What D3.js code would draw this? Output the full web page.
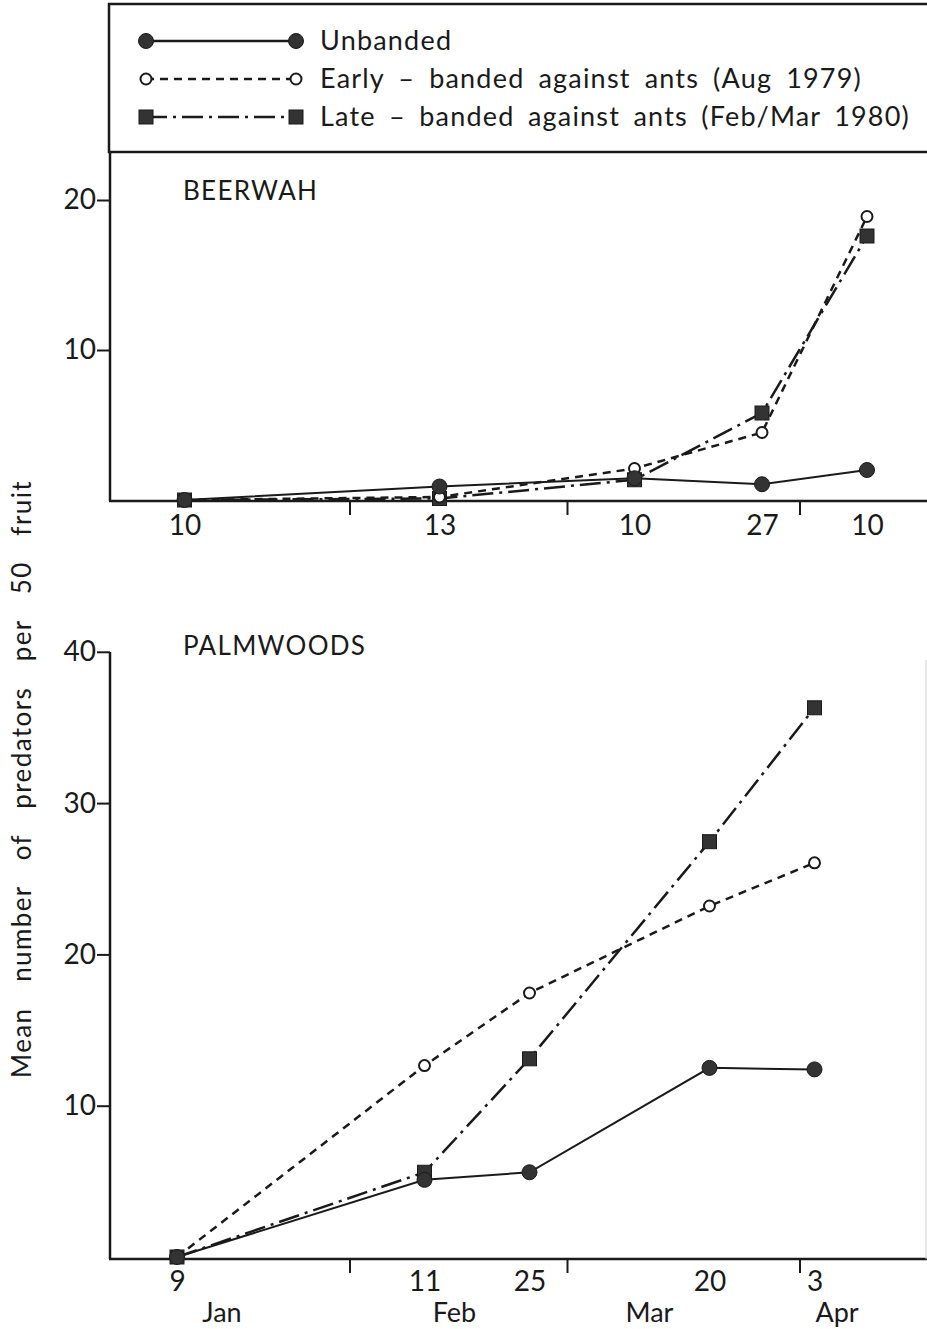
<!DOCTYPE html>
<html>
<head>
<meta charset="utf-8">
<script src="https://cdn.jsdelivr.net/npm/d3@7"></script>
<style>
  body { margin: 0; background: #fff; }
  svg { display: block; font-family: Lato, "Open Sans", sans-serif; }
</style>
</head>
<body>
<svg id="chart" width="927" height="1329"></svg>
<script>
// data
var seriesNames = ["Unbanded", "Early \u2013 banded against ants (Aug 1979)", "Late \u2013 banded against ants (Feb/Mar 1980)"];
var beerwahDates = ["1980-01-10", "1980-02-13", "1980-03-10", "1980-03-27", "1980-04-10"];
var beerwahUnbanded = [0, 0.9, 1.45, 1.05, 2.0];
var beerwahEarly = [0, 0.2, 2.1, 4.5, 18.9];
var beerwahLate = [0, 0.1, 1.35, 5.8, 17.6];
var palmwoodsDates = ["1980-01-09", "1980-02-11", "1980-02-25", "1980-03-20", "1980-04-03"];
var palmwoodsUnbanded = [0, 5.1, 5.6, 12.5, 12.4];
var palmwoodsEarly = [0, 12.65, 17.45, 23.2, 26.05];
var palmwoodsLate = [0, 5.6, 13.1, 27.45, 36.3];
var beerwahTicks = [10, 20];
var palmwoodsTicks = [10, 20, 30, 40];
var monthLabels = ["Jan", "Feb", "Mar", "Apr"];
var monthLabelDates = ["1980-01-15", "1980-02-15", "1980-03-12", "1980-04-06"];

var parse = d3.utcParse("%Y-%m-%d"),
    svg = d3.select("#chart"),
    ink = "#1a1a1a",
    fillInk = "#333";

var x = d3.scaleUtc()
    .domain([parse("1980-01-09"), parse("1980-04-10")])
    .range([177, 867]);

var styles = [
    {dash: null, marker: "dot"},
    {dash: "8,6", marker: "ring"},
    {dash: "21,6,3,6", marker: "square"}
];

function marker(g, kind, px, py) {
    if (kind === "dot") {
        g.append("circle").attr("cx", px).attr("cy", py).attr("r", 7.5)
            .attr("fill", fillInk).attr("stroke", ink).attr("stroke-width", 1);
    } else if (kind === "ring") {
        g.append("circle").attr("cx", px).attr("cy", py).attr("r", 5.5)
            .attr("fill", "#fff").attr("stroke", ink).attr("stroke-width", 2);
    } else {
        g.append("rect").attr("x", px - 7).attr("y", py - 7).attr("width", 14).attr("height", 14)
            .attr("fill", fillInk).attr("stroke", ink).attr("stroke-width", 1);
    }
}

// spread words until the text is as wide as the original
function fitWords(t, width) {
    var gaps = t.text().split(" ").length - 1,
        natural = t.node().getComputedTextLength();
    if (gaps > 0) { t.attr("word-spacing", Math.max(0, (width - natural) / gaps)); }
}

function panel(opts) {
    var y = d3.scaleLinear().domain([0, 10]).range([opts.y0, opts.y0 - opts.perTen]),
        g = svg.append("g"),
        dates = opts.dates.map(parse),
        series = [opts.unbanded, opts.early, opts.late];

    // frame
    g.append("line").attr("x1", 110).attr("x2", 110).attr("y1", opts.top).attr("y2", opts.axisY)
        .attr("stroke", ink).attr("stroke-width", 2.5);
    g.append("line").attr("x1", 109).attr("x2", 927).attr("y1", opts.axisY).attr("y2", opts.axisY)
        .attr("stroke", ink).attr("stroke-width", 2.5);

    // y ticks
    var yAxis = g.append("g").attr("transform", "translate(110,0)")
        .call(d3.axisLeft(y).tickValues(opts.ticks).tickSize(13).tickPadding(1).tickFormat(d3.format("d")));
    yAxis.select(".domain").remove();
    yAxis.selectAll("line").attr("stroke", ink).attr("stroke-width", 2);
    yAxis.selectAll("text").attr("font-size", 28).attr("fill", ink).attr("font-family", "Lato");

    // month boundary ticks
    var mAxis = g.append("g").attr("transform", "translate(0," + opts.axisY + ")")
        .call(d3.axisBottom(x).ticks(d3.utcMonth.every(1)).tickSize(14).tickFormat(""));
    mAxis.select(".domain").remove();
    mAxis.selectAll(".tick").filter(function (d) { return d.getUTCMonth() === 0; }).remove();
    mAxis.selectAll("line").attr("stroke", ink).attr("stroke-width", 2);

    // day labels
    var dAxis = g.append("g").attr("transform", "translate(0," + opts.axisY + ")")
        .call(d3.axisBottom(x).tickValues(dates).tickSize(0).tickPadding(opts.dayPad).tickFormat(d3.utcFormat("%-d")));
    dAxis.select(".domain").remove();
    dAxis.selectAll("text").attr("font-size", 28).attr("fill", ink).attr("font-family", "Lato");

    g.append("text").attr("x", 183).attr("y", opts.titleY).attr("font-size", 26)
        .attr("fill", ink).attr("letter-spacing", 1.3).text(opts.title);

    // series, late-banded first so the solid line sits on top
    [2, 1, 0].forEach(function (k) {
        var pts = dates.map(function (d, i) { return [x(d), y(series[k][i])]; });
        g.append("path").attr("d", d3.line()(pts))
            .attr("fill", "none").attr("stroke", ink)
            .attr("stroke-width", k === 0 ? 2 : 2.5)
            .attr("stroke-dasharray", styles[k].dash);
        pts.forEach(function (p) { marker(g, styles[k].marker, p[0], p[1]); });
    });
    return g;
}

// legend box
svg.append("rect").attr("x", 109).attr("y", 4).attr("width", 830).attr("height", 148)
    .attr("fill", "none").attr("stroke", ink).attr("stroke-width", 2.5);

var legendY = d3.scalePoint().domain(d3.range(3)).range([41, 117]),
    legendWidths = [132, 542, 590];
seriesNames.forEach(function (name, k) {
    var ly = legendY(k), lg = svg.append("g");
    lg.append("line").attr("x1", 146).attr("x2", 296).attr("y1", ly).attr("y2", ly)
        .attr("stroke", ink).attr("stroke-width", 2.5).attr("stroke-dasharray", styles[k].dash);
    marker(lg, styles[k].marker, 146, ly);
    marker(lg, styles[k].marker, 296, ly);
    var t = lg.append("text").attr("x", 320).attr("y", ly + 9).attr("font-size", 27)
        .attr("letter-spacing", 1.2).attr("fill", ink).text(name);
    fitWords(t, legendWidths[k]);
});

panel({
    title: "BEERWAH", titleY: 200, top: 152, axisY: 501, y0: 500, perTen: 150, dayPad: 14,
    ticks: beerwahTicks, dates: beerwahDates,
    unbanded: beerwahUnbanded, early: beerwahEarly, late: beerwahLate
});

var pw = panel({
    title: "PALMWOODS", titleY: 655, top: 652, axisY: 1259, y0: 1257, perTen: 151.3, dayPad: 12,
    ticks: palmwoodsTicks, dates: palmwoodsDates,
    unbanded: palmwoodsUnbanded, early: palmwoodsEarly, late: palmwoodsLate
});

// faint right border of the lower panel
pw.append("line").attr("x1", 926).attr("x2", 926).attr("y1", 660).attr("y2", 1259)
    .attr("stroke", "#d0d0d0").attr("stroke-width", 1);

// month names
pw.selectAll("text.month").data(monthLabels).enter().append("text")
    .attr("class", "month")
    .attr("x", function (d, i) { return x(parse(monthLabelDates[i])); })
    .attr("y", 1322).attr("text-anchor", "middle").attr("font-size", 27).attr("fill", ink)
    .text(function (d) { return d; });

// y axis title
var yTitle = svg.append("text").attr("transform", "translate(31,779) rotate(-90)")
    .attr("text-anchor", "middle").attr("font-size", 26).attr("letter-spacing", 1.4).attr("fill", ink)
    .text("Mean number of predators per 50 fruit");
fitWords(yTitle, 598);
</script>
</body>
</html>
